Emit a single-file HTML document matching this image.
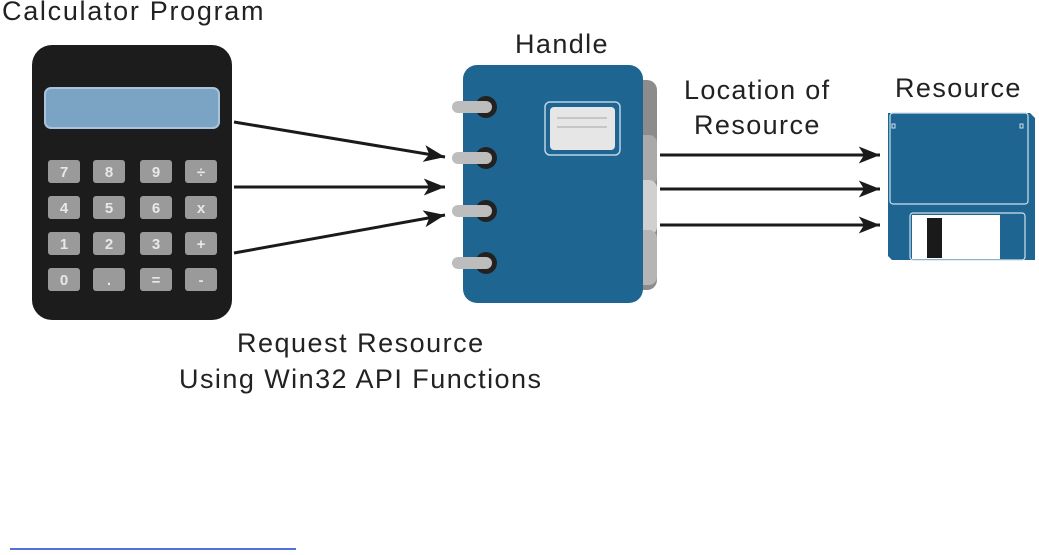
<!DOCTYPE html>
<html><head><style>
body{margin:0;background:#fff;width:1039px;height:555px;overflow:hidden;position:relative;font-family:"Liberation Sans",sans-serif}
.t{position:absolute;font-size:27px;letter-spacing:1.4px;color:#222;white-space:nowrap;line-height:32px}
</style></head><body>
<div class="t" style="left:2px;top:-5px;letter-spacing:1.7px">Calculator Program</div>
<div class="t" style="left:515px;top:28px">Handle</div>
<div class="t" style="left:684px;top:74px;letter-spacing:1.3px">Location of</div>
<div class="t" style="left:694px;top:109px">Resource</div>
<div class="t" style="left:895px;top:72px">Resource</div>
<div class="t" style="left:237px;top:327px;letter-spacing:1.5px">Request Resource</div>
<div class="t" style="left:179px;top:363px;letter-spacing:1.45px">Using Win32 API Functions</div>
<svg width="1039" height="555" style="position:absolute;left:0;top:0">
<defs>
<marker id="b" viewBox="0 0 20 16" refX="20" refY="8" markerWidth="22" markerHeight="17" orient="auto" markerUnits="userSpaceOnUse"><path d="M0,0L20,8L0,16L5,8z" fill="#1a1a1a"/></marker></defs>
<rect x="32" y="45" width="200" height="275" rx="20" fill="#1c1c1c"/>
<rect x="45" y="88" width="174" height="40" rx="6" fill="#7aa3c4" stroke="#a9c4da" stroke-width="2"/>
<g fill="#9a9a9a">
<rect x="48" y="160" width="32" height="23" rx="3"/><rect x="93" y="160" width="32" height="23" rx="3"/><rect x="140" y="160" width="32" height="23" rx="3"/><rect x="185" y="160" width="32" height="23" rx="3"/>
<rect x="48" y="196" width="32" height="23" rx="3"/><rect x="93" y="196" width="32" height="23" rx="3"/><rect x="140" y="196" width="32" height="23" rx="3"/><rect x="185" y="196" width="32" height="23" rx="3"/>
<rect x="48" y="232" width="32" height="23" rx="3"/><rect x="93" y="232" width="32" height="23" rx="3"/><rect x="140" y="232" width="32" height="23" rx="3"/><rect x="185" y="232" width="32" height="23" rx="3"/>
<rect x="48" y="268" width="32" height="23" rx="3"/><rect x="93" y="268" width="32" height="23" rx="3"/><rect x="140" y="268" width="32" height="23" rx="3"/><rect x="185" y="268" width="32" height="23" rx="3"/>
</g>
<g fill="#e8e8e8" font-family="Liberation Sans" font-weight="bold" font-size="15" text-anchor="middle">
<text x="64" y="177">7</text><text x="109" y="177">8</text><text x="156" y="177">9</text><text x="201" y="177">÷</text>
<text x="64" y="213">4</text><text x="109" y="213">5</text><text x="156" y="213">6</text><text x="201" y="213">x</text>
<text x="64" y="249">1</text><text x="109" y="249">2</text><text x="156" y="249">3</text><text x="201" y="249">+</text>
<text x="64" y="285">0</text><text x="109" y="285">.</text><text x="156" y="285">=</text><text x="201" y="285">-</text>
</g>
<g stroke="#1a1a1a" stroke-width="3" marker-end="url(#b)">
<line x1="234" y1="122" x2="445" y2="157"/><line x1="234" y1="187" x2="445" y2="187"/><line x1="234" y1="253" x2="445" y2="215"/>
</g>
<rect x="620" y="80" width="37" height="210" rx="10" fill="#8c8c8c"/>
<rect x="625" y="135" width="32" height="50" rx="8" fill="#aaa"/>
<rect x="625" y="180" width="32" height="55" rx="8" fill="#d0d0d0"/>
<rect x="625" y="230" width="32" height="55" rx="8" fill="#b5b5b5"/>
<rect x="463" y="65" width="180" height="238" rx="14" fill="#1f6592"/>
<rect x="545" y="102" width="75" height="53" rx="5" fill="none" stroke="#b9d3e6" stroke-width="1.5"/>
<rect x="550" y="107" width="65" height="43" rx="4" fill="#e6e6e6"/>
<line x1="557" y1="118" x2="607" y2="118" stroke="#bbb" stroke-width="1.5"/>
<line x1="557" y1="127" x2="607" y2="127" stroke="#bbb" stroke-width="1.5"/>
<g>
<circle cx="486" cy="107" r="11" fill="#222"/><rect x="452" y="101" width="40" height="12" rx="6" fill="#bdbdbd"/>
<circle cx="486" cy="158" r="11" fill="#222"/><rect x="452" y="152" width="40" height="12" rx="6" fill="#bdbdbd"/>
<circle cx="486" cy="211" r="11" fill="#222"/><rect x="452" y="205" width="40" height="12" rx="6" fill="#bdbdbd"/>
<circle cx="486" cy="263" r="11" fill="#222"/><rect x="452" y="257" width="40" height="12" rx="6" fill="#bdbdbd"/>
</g>
<g stroke="#1a1a1a" stroke-width="3" marker-end="url(#b)">
<line x1="660" y1="155" x2="880" y2="155"/><line x1="660" y1="189" x2="880" y2="189"/><line x1="660" y1="225" x2="880" y2="225"/>
</g>
<path d="M888,113 H1030 L1035,118 V260 H892 L888,256 Z" fill="#1f6592"/>
<rect x="890" y="113" width="138" height="91" rx="3" fill="none" stroke="#cfe0ec" stroke-width="1.2"/>
<rect x="892" y="124" width="3" height="4" fill="none" stroke="#cfe0ec"/>
<rect x="1020" y="124" width="3" height="4" fill="none" stroke="#cfe0ec"/>
<rect x="910" y="213" width="115" height="47" rx="3" fill="none" stroke="#cfe0ec" stroke-width="1.2"/>
<rect x="912" y="215" width="88" height="44" fill="#fff"/>
<rect x="927" y="218" width="15" height="40" fill="#1a1a1a"/>
<line x1="10" y1="549" x2="296" y2="549" stroke="#1f3fd0" stroke-width="1.5"/>
</svg>
</body></html>
